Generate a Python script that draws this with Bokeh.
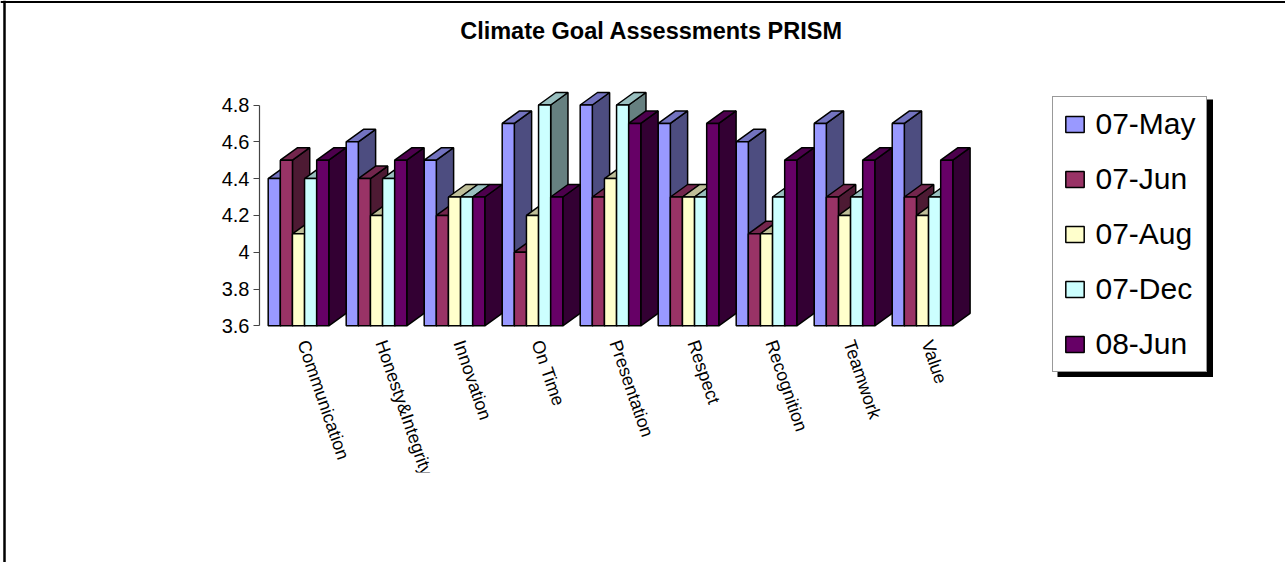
from bokeh.plotting import figure
from bokeh.embed import file_html
from bokeh.resources import INLINE
from bokeh.models import (Range1d, LinearAxis, FixedTicker, Legend, LegendItem,
                          Label, Span, BoxAnnotation)

categories = ["Communication", "Honesty&Integrity", "Innovation", "On Time", "Presentation",
              "Respect", "Recognition", "Teamwork", "Value"]
series_names = ["07-May", "07-Jun", "07-Aug", "07-Dec", "08-Jun"]
may07 = [4.4, 4.6, 4.5, 4.7, 4.8, 4.7, 4.6, 4.7, 4.7]
jun07 = [4.5, 4.4, 4.2, 4.0, 4.3, 4.3, 4.1, 4.3, 4.3]
aug07 = [4.1, 4.2, 4.3, 4.2, 4.4, 4.3, 4.1, 4.2, 4.2]
dec07 = [4.4, 4.4, 4.3, 4.8, 4.8, 4.3, 4.3, 4.3, 4.3]
jun08 = [4.5, 4.5, 4.3, 4.3, 4.7, 4.7, 4.5, 4.5, 4.5]
series_values = [may07, jun07, aug07, dec07, jun08]
y_ticks = [3.6, 3.8, 4.0, 4.2, 4.4, 4.6, 4.8]
y_tick_labels = ["3.6", "3.8", "4", "4.2", "4.4", "4.6", "4.8"]

front = ["#9999FF", "#993366", "#FFFFCC", "#CCFFFF", "#660066"]
top = ["#7373BF", "#73264D", "#BFBF99", "#99BFBF", "#4D004D"]
side = ["#4D4D80", "#4D1A33", "#808066", "#668080", "#330033"]

W, H = 1285, 562
PX_CAT = 78.0       # pixels per category
PX_VAL = 184.0      # pixels per value unit
X0, Y0 = 298.0, 325.3  # page position of category 0 / value 3.6


def xd(px):
    return (px - X0) / PX_CAT


def yd(py):
    return 3.6 + (Y0 - py) / PX_VAL


p = figure(width=W, height=H, output_backend="svg", toolbar_location=None,
           x_range=Range1d(xd(0), xd(W)), y_range=Range1d(yd(H), yd(0)),
           min_border=0, x_axis_location=None, y_axis_location=None)
p.grid.visible = False
p.outline_line_color = None
p.background_fill_color = "white"

bar_w = 12.12 / PX_CAT
depth_x = 17.3 / PX_CAT
depth_y = 12.5 / PX_VAL
edge = dict(line_color="black", line_width=1.5)

legend_items = []
for s, (name, vals) in enumerate(zip(series_names, series_values)):
    lefts = [i + (s - 2.5) * bar_w for i in range(len(vals))]
    rights = [l + bar_w for l in lefts]
    base = y_ticks[0]
    p.patches([[r, r + depth_x, r + depth_x, r] for r in rights],
              [[base, base + depth_y, v + depth_y, v] for v in vals],
              fill_color=side[s], **edge)
    p.patches([[l, r, r + depth_x, l + depth_x] for l, r in zip(lefts, rights)],
              [[v, v, v + depth_y, v + depth_y] for v in vals],
              fill_color=top[s], **edge)
    q = p.quad(left=lefts, right=rights, bottom=base, top=vals, fill_color=front[s], **edge)
    legend_items.append(LegendItem(label=name, renderers=[q]))

yaxis = LinearAxis(fixed_location=xd(259), bounds=(y_ticks[0], y_ticks[-1]),
                   ticker=FixedTicker(ticks=y_ticks),
                   major_label_overrides=dict(zip(y_ticks, y_tick_labels)))
yaxis.axis_line_color = "#444444"
yaxis.major_tick_line_color = "#444444"
yaxis.axis_line_width = 1.2
yaxis.major_tick_in = 0
yaxis.major_tick_out = 6
yaxis.minor_tick_line_color = None
yaxis.major_label_text_font = "Liberation Sans"
yaxis.major_label_text_font_size = "20px"
yaxis.major_label_text_color = "black"
yaxis.major_label_standoff = 4
p.add_layout(yaxis, "left")

label_shift = 4.5 / PX_CAT
x_ticks = [i + label_shift for i in range(len(categories))]
xaxis = LinearAxis(fixed_location=y_ticks[0], ticker=FixedTicker(ticks=x_ticks),
                   major_label_overrides=dict(zip(x_ticks, categories)))
xaxis.axis_line_color = None
xaxis.major_tick_line_color = None
xaxis.minor_tick_line_color = None
xaxis.major_label_orientation = -1.24
xaxis.major_label_text_font = "Liberation Sans"
xaxis.major_label_text_font_size = "18px"
xaxis.major_label_text_color = "black"
xaxis.major_label_standoff = 9
p.add_layout(xaxis, "below")

# the long label is cut off in the picture
p.add_layout(BoxAnnotation(left=xd(380), right=xd(470), top=yd(472), bottom=yd(520),
                           fill_color="white", fill_alpha=1, line_color=None, level="overlay"))

p.add_layout(Span(location=yd(1.5), dimension="width", line_color="black", line_width=2))
p.add_layout(Span(location=xd(4), dimension="height", line_color="black", line_width=2.5))

p.add_layout(Label(x=xd(651), y=yd(30), text="Climate Goal Assessments PRISM",
                   text_font="Liberation Sans", text_font_style="bold", text_font_size="23.5px",
                   text_color="black", text_align="center", text_baseline="middle"))

# legend shadow
p.add_layout(BoxAnnotation(left=xd(1057), right=xd(1212.5), top=yd(99), bottom=yd(376.5),
                           fill_color="black", fill_alpha=1, line_color=None))

legend = Legend(items=legend_items, location=(1051.5, H - 371.5), orientation="vertical",
                background_fill_color="white", background_fill_alpha=1,
                border_line_color="#333333", border_line_width=1.2,
                label_text_font="Liberation Sans", label_text_font_size="30px",
                label_text_color="black", glyph_width=23, glyph_height=20,
                label_height=30, label_standoff=10, padding=10, spacing=21, margin=0)
p.add_layout(legend)

open("out.html", "w").write(file_html(p, INLINE))
